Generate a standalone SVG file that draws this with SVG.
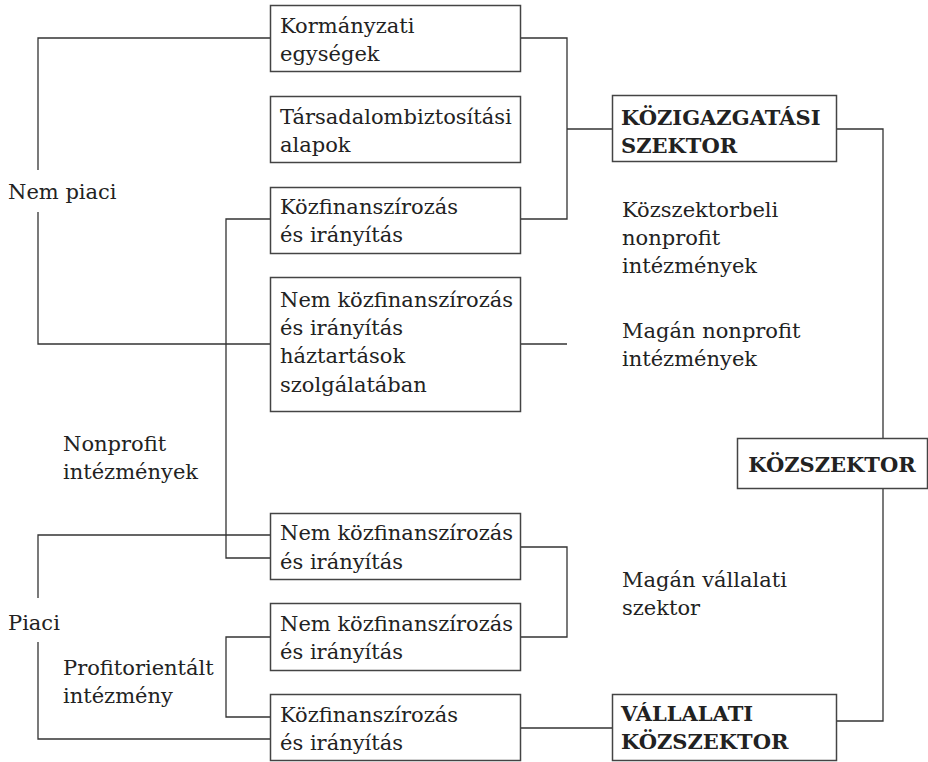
<svg xmlns="http://www.w3.org/2000/svg" width="928" height="762" viewBox="0 0 928 762">
  <style>
    .box { fill: #ffffff; stroke: #444444; stroke-width: 1.5; }
    .wire { fill: none; stroke: #333333; stroke-width: 1.3; }
    text { font-family: "DejaVu Serif", "Liberation Serif", serif; font-size: 21px; fill: #222222; }
    .bold { font-weight: bold; }
  </style>
  <rect width="928" height="762" fill="#ffffff"/>

  <!-- connectors -->
  <g id="connectors">
    <path class="wire" d="M270,38 H38 V170"/>
    <path class="wire" d="M38,212 V344 H270"/>
    <path class="wire" d="M521,38 H567 V219 H521"/>
    <path class="wire" d="M567,129 H612"/>
    <path class="wire" d="M270,219 H226 V558 H270"/>
    <path class="wire" d="M521,344 H567"/>
    <path class="wire" d="M270,535 H38 V598"/>
    <path class="wire" d="M38,642 V739 H270"/>
    <path class="wire" d="M270,637 H226 V717 H270"/>
    <path class="wire" d="M521,547 H567 V637 H521"/>
    <path class="wire" d="M521,728 H612"/>
    <path class="wire" d="M837,129 H883 V438"/>
    <path class="wire" d="M883,489 V721 H837"/>
  </g>

  <!-- left-hand category labels -->
  <g id="labels-left">
    <text x="8" y="199">Nem piaci</text>
    <text x="63" y="451">Nonprofit</text>
    <text x="63" y="479">intézmények</text>
    <text x="8" y="630">Piaci</text>
    <text x="63" y="675">Profitorientált</text>
    <text x="63" y="703">intézmény</text>
  </g>

  <!-- units -->
  <g id="kormanyzati">
    <rect class="box" x="270.5" y="5.5" width="250" height="66"/>
    <text x="280" y="33">Kormányzati</text>
    <text x="280" y="61">egységek</text>
  </g>
  <g id="tarsadalombiztositasi">
    <rect class="box" x="270.5" y="96.5" width="250" height="66"/>
    <text x="280" y="124">Társadalombiztosítási</text>
    <text x="280" y="152">alapok</text>
  </g>
  <g id="kozfin-nonprofit">
    <rect class="box" x="270.5" y="187.5" width="250" height="66"/>
    <text x="280" y="214">Közfinanszírozás</text>
    <text x="280" y="242">és irányítás</text>
  </g>
  <g id="nemkozfin-haztartasok">
    <rect class="box" x="270.5" y="277.5" width="250" height="134"/>
    <text x="280" y="307">Nem közfinanszírozás</text>
    <text x="280" y="335">és irányítás</text>
    <text x="280" y="363">háztartások</text>
    <text x="280" y="392">szolgálatában</text>
  </g>
  <g id="nemkozfin-nonprofit">
    <rect class="box" x="270.5" y="513.5" width="250" height="66"/>
    <text x="280" y="540">Nem közfinanszírozás</text>
    <text x="280" y="569">és irányítás</text>
  </g>
  <g id="nemkozfin-profit">
    <rect class="box" x="270.5" y="603.5" width="250" height="67"/>
    <text x="280" y="631">Nem közfinanszírozás</text>
    <text x="280" y="659">és irányítás</text>
  </g>
  <g id="kozfin-profit">
    <rect class="box" x="270.5" y="694.5" width="250" height="66"/>
    <text x="280" y="722">Közfinanszírozás</text>
    <text x="280" y="750">és irányítás</text>
  </g>

  <!-- sectors -->
  <g id="kozigazgatasi-szektor">
    <rect class="box" x="612.5" y="95.5" width="224" height="66"/>
    <text class="bold" x="621" y="125">KÖZIGAZGATÁSI</text>
    <text class="bold" x="621" y="153">SZEKTOR</text>
  </g>
  <g id="kozszektorbeli-nonprofit">
    <text x="622" y="217">Közszektorbeli</text>
    <text x="622" y="245">nonprofit</text>
    <text x="622" y="273">intézmények</text>
  </g>
  <g id="magan-nonprofit">
    <text x="622" y="338">Magán nonprofit</text>
    <text x="622" y="366">intézmények</text>
  </g>
  <g id="kozszektor">
    <rect class="box" x="737.5" y="438.5" width="190" height="50"/>
    <text class="bold" x="832" y="472" text-anchor="middle">KÖZSZEKTOR</text>
  </g>
  <g id="magan-vallalati">
    <text x="622" y="587">Magán vállalati</text>
    <text x="622" y="615">szektor</text>
  </g>
  <g id="vallalati-kozszektor">
    <rect class="box" x="612.5" y="694.5" width="224" height="66"/>
    <text class="bold" x="621" y="721">VÁLLALATI</text>
    <text class="bold" x="621" y="749">KÖZSZEKTOR</text>
  </g>
</svg>
